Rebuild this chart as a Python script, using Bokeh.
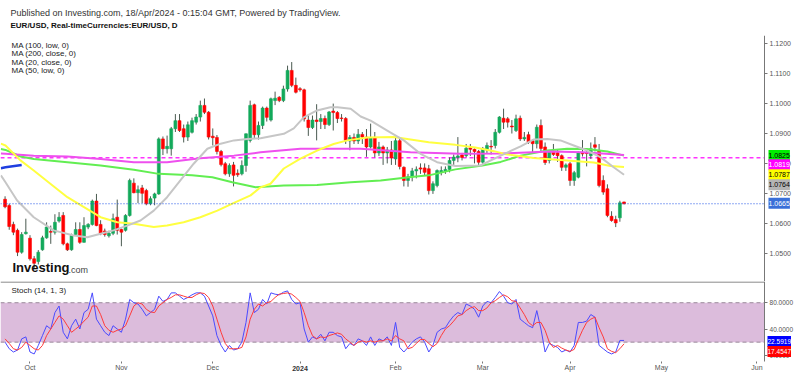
from bokeh.plotting import figure
from bokeh.layouts import column
from bokeh.models import (Range1d, FixedTicker, NumeralTickFormatter, BoxAnnotation, Label,
                          ColumnDataSource)
from bokeh.embed import file_html
from bokeh.resources import INLINE

# ---------------- data (bar index 0 = 2 Oct 2023, weekdays) ----------------
FIRST_BAR = -6
opens = [1.0680, 1.0659, 1.0596, 1.0576, 1.0503, 1.0565, 1.0550, 1.0481, 1.0472, 1.0511,
         1.0551, 1.0572, 1.0570, 1.0607, 1.0626, 1.0531, 1.0511, 1.0562, 1.0579, 1.0536,
         1.0587, 1.0596, 1.0674, 1.0596, 1.0574, 1.0558, 1.0566, 1.0620, 1.0579, 1.0576,
         1.0626, 1.0734, 1.0702, 1.0718, 1.0709, 1.0665, 1.0684, 1.0698, 1.0882, 1.0849,
         1.0849, 1.0916, 1.0943, 1.0916, 1.0888, 1.0904, 1.0938, 1.0955, 1.0994, 1.0971,
         1.0891, 1.0887, 1.0840, 1.0799, 1.0765, 1.0795, 1.0767, 1.0765, 1.0793, 1.0877,
         1.0996, 1.0896, 1.0927, 1.0985, 1.0945, 1.1010, 1.1021, 1.1010, 1.1049, 1.1111,
         1.1061, 1.1050, 1.1046, 1.0945, 1.0920, 1.0945, 1.0940, 1.0950, 1.0930, 1.0975,
         1.0970, 1.0952, 1.0950, 1.0875, 1.0887, 1.0875, 1.0897, 1.0888, 1.0855, 1.0885,
         1.0835, 1.0855, 1.0835, 1.0845, 1.0815, 1.0876, 1.0787, 1.0743, 1.0755, 1.0775,
         1.0785, 1.0785, 1.0782, 1.0709, 1.0726, 1.0770, 1.0775, 1.0780, 1.0810, 1.0820,
         1.0828, 1.0826, 1.0852, 1.0847, 1.0840, 1.0804, 1.0845, 1.0857, 1.0860, 1.0904,
         1.0951, 1.0949, 1.0925, 1.0910, 1.0951, 1.0882, 1.0896, 1.0876, 1.0866, 1.0927,
         1.0855, 1.0810, 1.0840, 1.0836, 1.0826, 1.0787, 1.0799, 1.0743, 1.0754, 1.0835,
         1.0835, 1.0826, 1.0862, 1.0843, 1.0743, 1.0715, 1.0623, 1.0612, 1.0618, 1.0671]
highs = [1.0690, 1.0665, 1.0605, 1.0582, 1.0570, 1.0615, 1.0560, 1.0490, 1.0510, 1.0558,
         1.0603, 1.0592, 1.0630, 1.0637, 1.0637, 1.0535, 1.0565, 1.0603, 1.0603, 1.0620,
         1.0600, 1.0679, 1.0698, 1.0610, 1.0582, 1.0575, 1.0632, 1.0679, 1.0582, 1.0630,
         1.0749, 1.0750, 1.0726, 1.0728, 1.0715, 1.0690, 1.0702, 1.0887, 1.0890, 1.0893,
         1.0922, 1.0965, 1.0965, 1.0930, 1.0940, 1.0953, 1.0965, 1.1010, 1.1017, 1.0975,
         1.0917, 1.0895, 1.0845, 1.0805, 1.0800, 1.0805, 1.0780, 1.0810, 1.0900, 1.1010,
         1.1000, 1.0940, 1.0990, 1.0990, 1.1020, 1.1040, 1.1025, 1.1060, 1.1127, 1.1139,
         1.1087, 1.1055, 1.1050, 1.0960, 1.0960, 1.0998, 1.0965, 1.0960, 1.0975, 1.1000,
         1.0975, 1.0965, 1.0955, 1.0895, 1.0900, 1.0915, 1.0905, 1.0915, 1.0933, 1.0905,
         1.0872, 1.0860, 1.0855, 1.0875, 1.0889, 1.0885, 1.0790, 1.0765, 1.0785, 1.0790,
         1.0800, 1.0800, 1.0795, 1.0740, 1.0780, 1.0790, 1.0790, 1.0820, 1.0830, 1.0888,
         1.0835, 1.0865, 1.0865, 1.0850, 1.0845, 1.0855, 1.0870, 1.0878, 1.0915, 1.0958,
         1.0983, 1.0955, 1.0945, 1.0963, 1.0960, 1.0905, 1.0906, 1.0880, 1.0930, 1.0947,
         1.0870, 1.0845, 1.0865, 1.0845, 1.0830, 1.0800, 1.0805, 1.0775, 1.0840, 1.0878,
         1.0845, 1.0870, 1.0888, 1.0865, 1.0760, 1.0730, 1.0640, 1.0625, 1.0675, 1.0672]
lows = [1.0650, 1.0578, 1.0560, 1.0490, 1.0498, 1.0562, 1.0475, 1.0450, 1.0462, 1.0508,
        1.0548, 1.0531, 1.0562, 1.0602, 1.0526, 1.0507, 1.0508, 1.0559, 1.0531, 1.0535,
        1.0580, 1.0592, 1.0590, 1.0560, 1.0555, 1.0552, 1.0560, 1.0562, 1.0523, 1.0572,
        1.0622, 1.0700, 1.0667, 1.0667, 1.0660, 1.0660, 1.0660, 1.0695, 1.0828, 1.0833,
        1.0826, 1.0905, 1.0905, 1.0870, 1.0875, 1.0900, 1.0930, 1.0940, 1.0965, 1.0880,
        1.0860, 1.0830, 1.0790, 1.0760, 1.0755, 1.0723, 1.0755, 1.0760, 1.0772, 1.0870,
        1.0885, 1.0880, 1.0915, 1.0940, 1.0940, 1.0995, 1.1005, 1.1005, 1.1040, 1.1055,
        1.1034, 1.1040, 1.0940, 1.0892, 1.0915, 1.0877, 1.0915, 1.0915, 1.0925, 1.0910,
        1.0935, 1.0940, 1.0865, 1.0844, 1.0865, 1.0865, 1.0865, 1.0822, 1.0850, 1.0820,
        1.0825, 1.0795, 1.0800, 1.0795, 1.0795, 1.0780, 1.0723, 1.0722, 1.0740, 1.0750,
        1.0765, 1.0760, 1.0696, 1.0698, 1.0720, 1.0760, 1.0765, 1.0770, 1.0795, 1.0804,
        1.0810, 1.0820, 1.0825, 1.0800, 1.0795, 1.0795, 1.0835, 1.0830, 1.0850, 1.0900,
        1.0915, 1.0920, 1.0900, 1.0905, 1.0875, 1.0875, 1.0865, 1.0835, 1.0850, 1.0835,
        1.0795, 1.0800, 1.0825, 1.0805, 1.0775, 1.0775, 1.0725, 1.0725, 1.0750, 1.0823,
        1.0790, 1.0815, 1.0840, 1.0720, 1.0695, 1.0620, 1.0605, 1.0587, 1.0605, 1.0663]
closes = [1.0655, 1.0589, 1.0570, 1.0503, 1.0562, 1.0570, 1.0481, 1.0466, 1.0503, 1.0551,
          1.0587, 1.0570, 1.0603, 1.0620, 1.0531, 1.0511, 1.0559, 1.0579, 1.0536, 1.0592,
          1.0596, 1.0674, 1.0592, 1.0565, 1.0562, 1.0566, 1.0615, 1.0576, 1.0570, 1.0626,
          1.0743, 1.0702, 1.0712, 1.0700, 1.0665, 1.0682, 1.0698, 1.0882, 1.0849, 1.0857,
          1.0916, 1.0943, 1.0910, 1.0888, 1.0929, 1.0943, 1.0955, 1.0994, 1.0971, 1.0888,
          1.0886, 1.0840, 1.0796, 1.0765, 1.0793, 1.0760, 1.0762, 1.0793, 1.0899, 1.0994,
          1.0896, 1.0927, 1.0985, 1.0954, 1.1016, 1.1018, 1.1010, 1.1049, 1.1111, 1.1061,
          1.1038, 1.1046, 1.0949, 1.0920, 1.0945, 1.0940, 1.0950, 1.0930, 1.0972, 1.0970,
          1.0950, 1.0950, 1.0877, 1.0887, 1.0875, 1.0897, 1.0888, 1.0855, 1.0885, 1.0835,
          1.0855, 1.0835, 1.0845, 1.0818, 1.0876, 1.0790, 1.0743, 1.0755, 1.0775, 1.0780,
          1.0781, 1.0770, 1.0709, 1.0732, 1.0776, 1.0776, 1.0780, 1.0810, 1.0821, 1.0825,
          1.0820, 1.0851, 1.0847, 1.0840, 1.0804, 1.0849, 1.0860, 1.0855, 1.0904, 1.0955,
          1.0938, 1.0938, 1.0922, 1.0949, 1.0882, 1.0887, 1.0871, 1.0866, 1.0921, 1.0850,
          1.0803, 1.0843, 1.0830, 1.0826, 1.0787, 1.0795, 1.0743, 1.0769, 1.0835, 1.0832,
          1.0833, 1.0849, 1.0854, 1.0726, 1.0704, 1.0626, 1.0609, 1.0601, 1.0668, 1.0665]

# moving averages (bar index, price)
ma20_idx = [-7.0, -5.9, -3.1, 0.9, 5.7, 10.5, 13.8, 17.0, 20.1, 23.4, 26.6, 29.8, 33.0, 36.2,
            39.4, 42.7, 45.9, 49.1, 52.3, 55.5, 61.1, 63.5, 65.9, 69.1, 72.3, 74.0, 77.2,
            79.6, 82.0, 86.0, 90.0, 94.0, 98.0, 102.4, 108.4, 113.3, 118.1, 121.3, 124.5,
            127.7, 130.9, 134.1, 137.3, 140.5, 143.0]
ma20_val = [1.0760, 1.0737, 1.0676, 1.0620, 1.0576, 1.0559, 1.0553, 1.0565, 1.0576, 1.0592,
            1.0609, 1.0642, 1.0687, 1.0743, 1.0799, 1.0849, 1.0866, 1.0877, 1.0882, 1.0884,
            1.0899, 1.0917, 1.0954, 1.0977, 1.0988, 1.0988, 1.0983, 1.0957, 1.0943, 1.0910,
            1.0877, 1.0832, 1.0804, 1.0791, 1.0793, 1.0826, 1.0857, 1.0880, 1.0882, 1.0877,
            1.0860, 1.0843, 1.0821, 1.0787, 1.0762]
ma50_idx = [-7.0, -5.9, -2.3, 0.9, 4.9, 9.0, 13.0, 17.0, 21.0, 25.0, 29.8, 33.0, 37.0, 41.0,
            45.1, 49.1, 53.1, 55.5, 57.9, 61.1, 65.1, 69.1, 73.1, 76.4, 81.2, 87.6, 96.0,
            102.4, 107.2, 111.7, 114.5, 121.3, 129.3, 135.7, 139.7, 143.0]
ma50_val = [1.0866, 1.0860, 1.0810, 1.0776, 1.0732, 1.0687, 1.0654, 1.0620, 1.0603, 1.0598,
            1.0587, 1.0592, 1.0603, 1.0620, 1.0642, 1.0668, 1.0693, 1.0720, 1.0732, 1.0783,
            1.0816, 1.0843, 1.0865, 1.0877, 1.0887, 1.0888, 1.0871, 1.0862, 1.0853, 1.0841,
            1.0831, 1.0818, 1.0810, 1.0803, 1.0791, 1.0788]
ma100_idx = [-7.0, -5.9, -2.3, 0.9, 9.0, 17.0, 25.0, 31.0, 39.0, 43.9, 48.7, 54.3, 61.1, 69.1,
             77.2, 84.4, 91.2, 96.0, 102.4, 108.9, 113.3, 118.1, 124.5, 129.3, 134.1, 139.0,
             143.0]
ma100_val = [1.0848, 1.0845, 1.0823, 1.0815, 1.0804, 1.0793, 1.0779, 1.0765, 1.0760, 1.0754,
             1.0737, 1.0720, 1.0726, 1.0728, 1.0737, 1.0743, 1.0754, 1.0760, 1.0780, 1.0793,
             1.0805, 1.0826, 1.0843, 1.0849, 1.0848, 1.0840, 1.0826]
ma200_idx = [-7.0, -5.9, 0.9, 9.0, 17.0, 25.0, 33.0, 41.0, 49.1, 55.5, 65.1, 79.6, 91.6, 103.6,
             113.3, 125.3, 133.3, 143.0]
ma200_val = [1.0833, 1.0832, 1.0826, 1.0823, 1.0815, 1.0804, 1.0804, 1.0817, 1.0826, 1.0837,
             1.0849, 1.0849, 1.0837, 1.0832, 1.0833, 1.0840, 1.0837, 1.0828]
extra_idx = [-7.0, -5.9, -2.0]
extra_val = [1.0784, 1.0787, 1.0795]

last_price = 1.0665
ma200_last = 1.0819
price_tags = ["1.0825", "1.0819", "1.0787", "1.0764", "1.0665"]
price_ticks = [1.05, 1.06, 1.07, 1.08, 1.09, 1.10, 1.11, 1.12]

stoch_k = [20, 10, 5, 8, 25, 28, 5, 2, 15, 30, 45, 40, 65, 75, 35, 25, 45, 55, 40, 65, 70, 95,
           55, 45, 35, 30, 45, 40, 35, 55, 85, 80, 78, 70, 60, 65, 70, 90, 82, 85, 95, 95, 90,
           85, 88, 92, 95, 95, 90, 75, 60, 30, 15, 5, 15, 8, 10, 20, 50, 95, 65, 70, 85, 78,
           95, 93, 92, 96, 98, 85, 78, 80, 40, 20, 28, 25, 32, 22, 35, 35, 30, 28, 10, 18, 15,
           25, 22, 15, 28, 15, 25, 22, 28, 15, 50, 12, 5, 12, 20, 25, 28, 20, 5, 15, 35, 40,
           42, 52, 60, 65, 62, 78, 75, 70, 58, 75, 82, 80, 88, 97, 90, 80, 78, 85, 55, 50, 45,
           42, 68, 40, 5, 18, 15, 12, 5, 8, 5, 15, 50, 50, 52, 62, 58, 15, 10, 5, 2, 5, 22.6,
           22.5919]
stoch_d = [25, 18, 10, 8, 12, 20, 15, 10, 8, 15, 30, 40, 50, 60, 55, 45, 35, 40, 45, 52, 58, 75,
           75, 62, 45, 38, 35, 38, 40, 45, 60, 75, 80, 78, 70, 66, 65, 75, 80, 85, 88, 92, 92,
           90, 88, 88, 92, 95, 94, 88, 75, 55, 35, 18, 10, 10, 10, 12, 28, 55, 70, 78, 75, 80,
           82, 88, 93, 94, 95, 93, 88, 82, 65, 45, 30, 25, 28, 27, 30, 32, 34, 32, 25, 20, 15,
           20, 22, 20, 22, 20, 22, 22, 25, 22, 30, 25, 22, 10, 12, 18, 24, 24, 18, 13, 18, 30,
           40, 45, 52, 60, 62, 68, 72, 74, 68, 68, 72, 80, 83, 88, 92, 89, 83, 82, 72, 62, 50,
           45, 50, 50, 38, 20, 12, 15, 11, 8, 6, 9, 24, 38, 50, 55, 58, 42, 28, 10, 6, 4, 10,
           17.4547]
stoch_levels = [20, 80]
stoch_ticks = [0, 40, 80]
stoch_tags = ["22.5919", "17.4547"]

month_idx = [0, 22, 44, 65, 88, 109, 130, 152, 175]
month_names = ["Oct", "Nov", "Dec", "2024", "Feb", "Mar", "Apr", "May", "Jun"]
year_label = "2024"

# ---------------- layout constants (pixels = picture coordinates) ----------------
FONT = "Liberation Sans"
W = 800
H0, H1, H2 = 35, 246, 94          # header, price panel, stochastic panel
X0, X1 = -7.10, 185.48            # bar-index range across the full width
AXIS_X = 176.82                   # bar-index position of the price axis line
P_LO, P_HI = 1.0405, 1.12278
S_LO, S_HI = -30.75, 112.3        # stochastic frame reaches the bottom of the picture
S_AXIS = -9.4                     # level at which the date axis is drawn

bar_idx = list(range(FIRST_BAR, FIRST_BAR + len(opens)))
UP, DOWN, DOJI = "#13a95b", "#ff0000", "#333333"
colors = []
for o, c in zip(opens, closes):
    if abs(c - o) < 0.00015:
        colors.append(DOJI)
    elif c > o:
        colors.append(UP)
    else:
        colors.append(DOWN)
src = ColumnDataSource(dict(x=bar_idx, top=[max(o, c) for o, c in zip(opens, closes)],
                            bottom=[min(o, c) for o, c in zip(opens, closes)],
                            high=highs, low=lows, color=colors))


def txt(fig, fh, px, py, text, size, color="#222222", bold=False, align="left", **kw):
    """Label in pixels of the picture; fh = frame bottom (page y) of that figure."""
    fig.add_layout(Label(x=px, y=fh - py, x_units="screen", y_units="screen", text=text,
                         text_font=FONT, text_font_size=size, text_color=color,
                         text_font_style="bold" if bold else "normal",
                         text_baseline="middle", text_align=align, **kw))


def style_axis(ax, size):
    ax.major_label_text_font = FONT
    ax.major_label_text_font_size = size
    ax.major_label_text_color = "#555555"
    ax.axis_line_color = "#777777"
    ax.major_tick_line_color = "#777777"
    ax.major_tick_out = 3
    ax.major_tick_in = 0
    ax.minor_tick_out = 0
    ax.minor_tick_in = 0
    ax.major_label_standoff = 2


def bare(fig):
    fig.grid.visible = False
    fig.outline_line_color = None
    fig.background_fill_color = "white"
    fig.border_fill_color = "white"


# ---------------- header ----------------
p0 = figure(width=W, height=H0, x_range=Range1d(0, 1), y_range=Range1d(0, 1),
            x_axis_location=None, y_axis_location=None, toolbar_location=None,
            output_backend="svg", min_border=0, title=None)
bare(p0)
txt(p0, H0, 10, 12,
    "Published on Investing.com, 18/Apr/2024 - 0:15:04 GMT, Powered by TradingView.", "9px",
    color="#333333")
txt(p0, H0, 10, 25, "EUR/USD, Real-timeCurrencies:EUR/USD, D", "8px",
    color="#111111", bold=True)

# ---------------- main price panel ----------------
p1 = figure(width=W, height=H1, x_range=Range1d(X0, X1), y_range=Range1d(P_LO, P_HI),
            y_axis_location="right", x_axis_location=None, toolbar_location=None,
            output_backend="svg", min_border=0, title=None)
bare(p1)
ax = p1.yaxis[0]
ax.fixed_location = AXIS_X
ax.ticker = FixedTicker(ticks=price_ticks)
ax.formatter = NumeralTickFormatter(format="0.0000")
style_axis(ax, "7px")

p1.segment(x0=[X0], y0=[ma200_last], x1=[AXIS_X], y1=[ma200_last], line_color="#ff33ff",
           line_width=1.5, line_dash="4 3")
p1.segment(x0="x", y0="low", x1="x", y1="high", source=src, line_color="#4a5a50", line_width=1)
p1.vbar(x="x", width=0.7, top="top", bottom="bottom", source=src, fill_color="color",
        line_color="color", line_width=0.6)

p1.line(ma100_idx, ma100_val, line_color="#62ee52", line_width=2)
p1.line(ma200_idx, ma200_val, line_color="#ee50ee", line_width=2)
p1.line(ma50_idx, ma50_val, line_color="#ffff40", line_width=2)
p1.line(ma20_idx, ma20_val, line_color="#c6c6c6", line_width=2)
p1.line(extra_idx, extra_val, line_color="#1f3fe0", line_width=2.5)

p1.segment(x0=[X0], y0=[last_price], x1=[AXIS_X], y1=[last_price], line_color="#1e50e6",
           line_width=1, line_dash="1 2")

F1B = H0 + H1   # page y of the price frame bottom
for k, s in enumerate(["MA (100, low, 0)", "MA (200, close, 0)", "MA (20, close, 0)",
                       "MA (50, low, 0)"]):
    txt(p1, F1B, 11, 45 + 8.3 * k, s, "8px", color="#222222")
txt(p1, F1B, 12, 267, "Investing", "13px", color="#111111", bold=True)
txt(p1, F1B, 68, 269, ".com", "9px", color="#444444")

tag_style = [("#00ee00", "#000000", 155), ("#ff00ff", "#ffffff", 164.3),
             ("#ffff00", "#000000", 174.3), ("#b4b4b4", "#000000", 184.3),
             ("#3a6fd8", "#ffffff", 202.7)]
for t, (bg, fg, py) in zip(price_tags, tag_style):
    txt(p1, F1B, 768, py, t, "7px", color=fg, background_fill_color=bg, padding=(0, 3))

# ---------------- stochastic panel ----------------
p2 = figure(width=W, height=H2, x_range=p1.x_range, y_range=Range1d(S_LO, S_HI),
            y_axis_location="right", toolbar_location=None, output_backend="svg",
            min_border=0, title=None)
bare(p2)
p2.add_layout(BoxAnnotation(left=X0, right=AXIS_X, bottom=stoch_levels[0],
                            top=stoch_levels[1], fill_color="#dcbcdc", fill_alpha=1.0,
                            line_color=None, level="underlay"))
p2.segment(x0=[X0, X0], y0=stoch_levels, x1=[AXIS_X, AXIS_X], y1=stoch_levels,
           line_color="#9a8a9a", line_width=1, line_dash="4 3")
p2.segment(x0=[X0], y0=[S_HI - 0.8], x1=[AXIS_X], y1=[S_HI - 0.8], line_color="#666666",
           line_width=1)

p2.line(bar_idx, stoch_k, line_color="#4a4aff", line_width=1)
p2.line(bar_idx, stoch_d, line_color="#ff3b3b", line_width=1)

ay = p2.yaxis[0]
ay.fixed_location = AXIS_X
ay.ticker = FixedTicker(ticks=stoch_ticks)
ay.formatter = NumeralTickFormatter(format="0.0000")
style_axis(ay, "6.5px")

axx = p2.xaxis[0]
axx.fixed_location = S_AXIS
axx.ticker = FixedTicker(ticks=month_idx)
axx.major_label_overrides = {m: ("" if n == year_label else n)
                             for m, n in zip(month_idx, month_names)}
style_axis(axx, "7px")
axx.axis_line_color = None
axx.major_tick_out = 2
axx.major_label_standoff = 1

# hide the part of the price-axis line below the date axis
p2.add_layout(BoxAnnotation(left=AXIS_X - 0.15, right=X1, top=S_AXIS, bottom=S_LO,
                            fill_color="white", fill_alpha=1.0, line_color=None))

F2B = H0 + H1 + H2
yr_px = 29.5 + 4.154 * month_idx[month_names.index(year_label)]
txt(p2, F2B, yr_px, 368, year_label, "7px", color="#333333", bold=True, align="center")
txt(p2, F2B, 11, 290, "Stoch (14, 1, 3)", "8px", color="#222222")
for t, (bg, py) in zip(stoch_tags, [("#0000ff", 341), ("#ff0000", 351)]):
    txt(p2, F2B, 767, py, t, "6.5px", color="#ffffff", background_fill_color=bg,
        padding=(0, 3))

layout = column(p0, p1, p2, spacing=0)
open("out.html", "w").write(file_html(layout, INLINE))
